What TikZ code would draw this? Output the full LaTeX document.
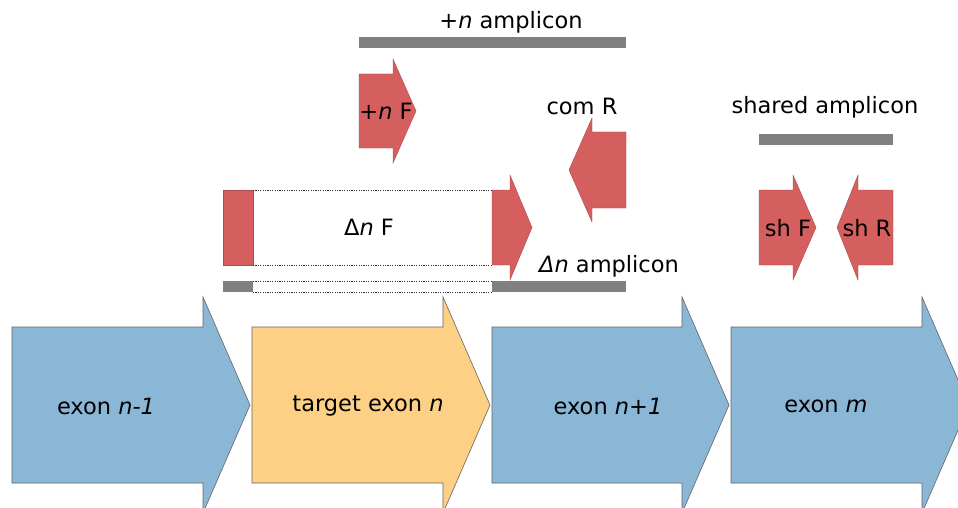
\documentclass[tikz,border=0pt]{standalone}
\usepackage{fontspec}
\setmainfont{DejaVu Sans}
\definecolor{exonblue}{RGB}{139,183,214}
\definecolor{exonorange}{RGB}{253,208,134}
\definecolor{primerred}{RGB}{213,95,95}
\definecolor{barGray}{RGB}{128,128,128}
\definecolor{edgeGray}{RGB}{100,100,100}
\begin{document}
\begin{tikzpicture}[x=1pt,y=-1pt,
  exonshape/.style={draw=edgeGray,line width=0.6pt,line join=miter},
  primer/.style={fill=primerred,draw=primerred!80!black,line width=0.4pt},
  ampbar/.style={fill=barGray,draw=none},
  dotline/.style={draw=black!80,line width=0.7pt,dash pattern=on 1.2pt off 1.2pt},
  lbl/.style={font=\fontsize{22.5}{27}\selectfont,inner sep=0pt}]
\clip (0,0) rectangle (958,508);
\fill[white] (0,0) rectangle (958,508);

% exon arrows
\path[exonshape,fill=exonblue] (12,327) -- (203,327) -- (203,297) -- (250,405) -- (203,513) -- (203,483) -- (12,483) -- cycle;
\path[exonshape,fill=exonorange] (252,327) -- (443,327) -- (443,297) -- (490,405) -- (443,513) -- (443,483) -- (252,483) -- cycle;
\path[exonshape,fill=exonblue] (492,327) -- (682,327) -- (682,297) -- (729,405) -- (682,513) -- (682,483) -- (492,483) -- cycle;
\path[exonshape,fill=exonblue] (731,327) -- (922,327) -- (922,297) -- (969,405) -- (922,513) -- (922,483) -- (731,483) -- cycle;

\node[lbl] (e1) at (106,406) {exon \textit{n-1}};
\node[lbl] (e2) at (368,406) {target exon \textit{n}};
\node[lbl] (e3) at (608,406) {exon \textit{n+1}};
\node[lbl] (e4) at (826,406) {exon \textit{m}};

% +n amplicon
\path[ampbar] (359,37) rectangle (626,48);
\node[lbl] (pa) at (511,22) {+\textit{n} amplicon};

% +n F primer
\path[primer] (359,74) -- (393,74) -- (393,59) -- (416,111) -- (393,163) -- (393,148) -- (359,148) -- cycle;
\node[lbl] (pf) at (386,111) {+\textit{n} F};

% com R primer
\path[primer] (626,132) -- (592,132) -- (592,118) -- (569,170) -- (592,222) -- (592,208) -- (626,208) -- cycle;
\node[lbl] (cr) at (582,106) {com R};

% Delta n F primer, split across the target exon
\path[primer] (223,190) rectangle (253,265);
\path[primer] (492,190) -- (510,190) -- (510,175) -- (532,227.5) -- (510,280) -- (510,265) -- (492,265) -- cycle;
\draw[dotline] (253,190) -- (492,190);
\draw[dotline] (253,265) -- (492,265);
\node[lbl] (df) at (369,227) {Δ\textit{n} F};

% Delta n amplicon
\path[ampbar] (223,281) rectangle (253,292);
\path[ampbar] (492,281) rectangle (626,292);
\draw[dotline] (253,281) -- (492,281);
\draw[dotline] (253,292) -- (492,292);
\node[lbl] (da) at (609,266) {\textit{Δn} amplicon};

% shared amplicon
\path[ampbar] (759,134) rectangle (893,145);
\node[lbl] (sa) at (825,107) {shared amplicon};

\path[primer] (759,190) -- (793,190) -- (793,175) -- (816,227.5) -- (793,280) -- (793,265) -- (759,265) -- cycle;
\node[lbl] (sf) at (788,228) {sh F};
\path[primer] (893,190) -- (858,190) -- (858,175) -- (837,227.5) -- (858,280) -- (858,265) -- (893,265) -- cycle;
\node[lbl] (sr) at (867,228) {sh R};
\end{tikzpicture}
\end{document}
